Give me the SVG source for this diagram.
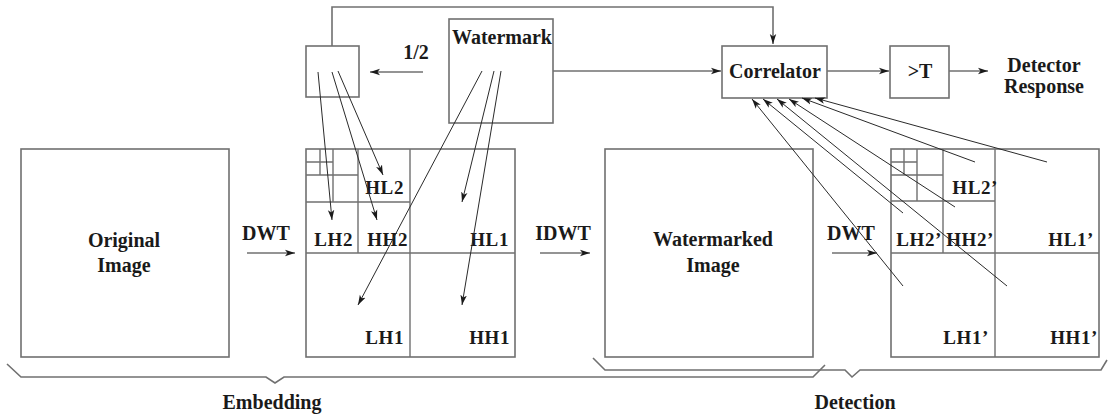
<svg xmlns="http://www.w3.org/2000/svg" width="1108" height="418" viewBox="0 0 1108 418">
<style>
.box{fill:none;stroke:#707070;stroke-width:1.6}
.grid{fill:none;stroke:#707070;stroke-width:1.4}
.ln{fill:none;stroke:#2a2a2a;stroke-width:1}
.gl{fill:none;stroke:#707070;stroke-width:1.6}
.t{font-family:"Liberation Serif","Times New Roman",serif;font-weight:bold;font-size:20px;fill:#1a1a1a}
.s{font-family:"Liberation Serif","Times New Roman",serif;font-weight:bold;font-size:19px;fill:#1a1a1a;letter-spacing:0.6px}
.m{text-anchor:middle}
.e{text-anchor:end}
</style>
<defs>
<marker id="ah" markerWidth="11" markerHeight="8" refX="10" refY="4" orient="auto" markerUnits="userSpaceOnUse">
<path d="M0,0.8 L10,4 L0,7.2 L2.5,4 Z" fill="#1a1a1a"/>
</marker>
</defs>
<rect width="1108" height="418" fill="#ffffff"/>

<g id="original">
<rect class="box" x="21" y="149" width="208" height="208"/>
<text class="t m" x="124" y="247">Original</text>
<text class="t m" x="124" y="272">Image</text>
</g>

<g id="subbands">
<rect class="box" x="306" y="149" width="209" height="208"/>
<path class="grid" d="M410,149V357M306,253H515M358,149V253M306,202H410M333,149V202M306,175H358M320,149V175M306,162H333"/>
<text class="s e" x="404" y="194">HL2</text>
<text class="s e" x="353" y="246">LH2</text>
<text class="s e" x="408" y="246">HH2</text>
<text class="s e" x="509" y="246">HL1</text>
<text class="s e" x="404" y="344">LH1</text>
<text class="s e" x="510" y="344">HH1</text>
</g>

<g id="half">
<rect class="box" x="306" y="46" width="53" height="51"/>
</g>

<g id="watermark">
<rect class="box" x="449" y="19" width="104" height="104"/>
<text class="t m" x="502" y="44">Watermark</text>
</g>

<g id="watermarked">
<rect class="box" x="605" y="149" width="208" height="208"/>
<text class="t m" x="713" y="246">Watermarked</text>
<text class="t m" x="713" y="272">Image</text>
</g>

<g id="subbands2">
<rect class="box" x="891" y="149" width="208" height="208"/>
<path class="grid" d="M995,149V357M891,253H1099M943,149V253M891,201H995M917,149V201M891,175H943M904,149V175M891,162H917"/>
<text class="s e" x="998" y="194">HL2’</text>
<text class="s e" x="942" y="246">LH2’</text>
<text class="s e" x="994" y="246">HH2’</text>
<text class="s e" x="1094" y="246">HL1’</text>
<text class="s e" x="989" y="344">LH1’</text>
<text class="s e" x="1098" y="344">HH1’</text>
</g>

<g id="correlator">
<rect class="box" x="722" y="46" width="105" height="52"/>
<text class="t m" x="775" y="78">Correlator</text>
</g>

<g id="threshold">
<rect class="box" x="890" y="46" width="59" height="52"/>
<text class="t m" x="920" y="78">&gt;T</text>
</g>

<g id="response">
<text class="t m" x="1044" y="72">Detector</text>
<text class="t m" x="1044" y="93">Response</text>
</g>

<g id="labels">
<text class="t m" x="266" y="240">DWT</text>
<text class="t m" x="563" y="240">IDWT</text>
<text class="t m" x="851" y="240">DWT</text>
<text class="t m" x="416" y="59">1/2</text>
<text class="t m" x="272" y="409">Embedding</text>
<text class="t m" x="855" y="409">Detection</text>
</g>

<g id="connectors">
<path class="gl" d="M332,46V7H773V44" marker-end="url(#ah)"/>
<path class="gl" d="M553,71H721" marker-end="url(#ah)"/>
<path class="gl" d="M827,71H889" marker-end="url(#ah)"/>
<path class="gl" d="M949,71H988" marker-end="url(#ah)"/>
<path class="gl" d="M423,72H370" marker-end="url(#ah)"/>
<path class="gl" d="M247,253H295" marker-end="url(#ah)"/>
<path class="gl" d="M540,253H590" marker-end="url(#ah)"/>
<path class="gl" d="M832,253H877" marker-end="url(#ah)"/>

<path class="ln" d="M318,72L332,220" marker-end="url(#ah)"/>
<path class="ln" d="M332,72L377,220" marker-end="url(#ah)"/>
<path class="ln" d="M338,71L383,175" marker-end="url(#ah)"/>
<path class="ln" d="M482,71L358,305" marker-end="url(#ah)"/>
<path class="ln" d="M494,71L462,202" marker-end="url(#ah)"/>
<path class="ln" d="M501,71L462,305" marker-end="url(#ah)"/>

<path class="ln" d="M903,286L752,99" marker-end="url(#ah)"/>
<path class="ln" d="M903,213L763,99" marker-end="url(#ah)"/>
<path class="ln" d="M1007,286L777,99" marker-end="url(#ah)"/>
<path class="ln" d="M955,207L789,99" marker-end="url(#ah)"/>
<path class="ln" d="M975,162L802,98" marker-end="url(#ah)"/>
<path class="ln" d="M1047,162L815,98" marker-end="url(#ah)"/>

<path class="gl" d="M7,364L21,377H266L275,383L284,377H813L825,365"/>
<path class="gl" d="M593,358L605,370H845L852,377L860,370H1101L1107,360"/>
</g>
</svg>
